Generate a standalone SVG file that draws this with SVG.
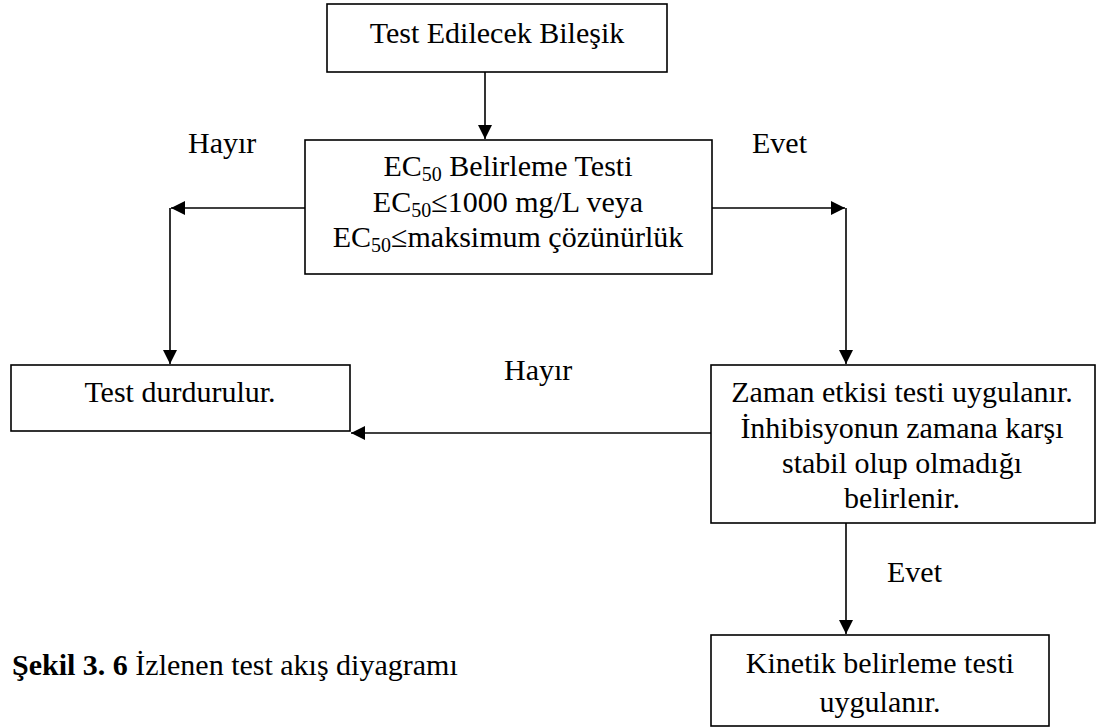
<svg xmlns="http://www.w3.org/2000/svg" width="1096" height="728" viewBox="0 0 1096 728">
  <defs>
    <marker id="arrow" viewBox="0 0 14 14" refX="14" refY="7" markerWidth="14" markerHeight="14" markerUnits="userSpaceOnUse" orient="auto">
      <path d="M0,0 L14,7 L0,14 Z" fill="#000"/>
    </marker>
    <style>
      .box { fill: #fff; stroke: #000; stroke-width: 1.6; }
      .edge { fill: none; stroke: #000; stroke-width: 1.6; marker-end: url(#arrow); }
      .mid { text-anchor: middle; }
      .sub { font-size: 20px; }
    </style>
  </defs>
  <rect width="1096" height="728" fill="#fff"/>

  <!-- connectors -->
  <g id="connectors">
    <path class="edge" d="M485,72 L485,139"/>
    <path class="edge" d="M305,208 L171,208"/>
    <path class="edge" d="M170,208 L170,364"/>
    <path class="edge" d="M712,208 L845,208"/>
    <path class="edge" d="M846,208 L846,364"/>
    <path class="edge" d="M711,433 L351,433"/>
    <path class="edge" d="M846,523 L846,634"/>
  </g>

  <g font-family="'Liberation Serif', 'Times New Roman', 'DejaVu Serif', serif" font-size="30" fill="#000">
    <!-- edge labels -->
    <g id="labels">
      <text x="188" y="153">Hayır</text>
      <text x="752" y="153">Evet</text>
      <text x="504" y="380">Hayır</text>
      <text x="887" y="582">Evet</text>
    </g>

    <g id="node-compound">
      <rect class="box" x="327" y="4" width="340" height="68"/>
      <text class="mid" x="497" y="43">Test Edilecek Bileşik</text>
    </g>

    <g id="node-ec50">
      <rect class="box" x="305" y="140" width="407" height="134"/>
      <text class="mid" x="508" y="176">EC<tspan class="sub" dy="5">50</tspan><tspan dy="-5"> Belirleme Testi</tspan></text>
      <text class="mid" x="508" y="212">EC<tspan class="sub" dy="5">50</tspan><tspan dy="-5">≤1000 mg/L veya</tspan></text>
      <text class="mid" x="508" y="247">EC<tspan class="sub" dy="5">50</tspan><tspan dy="-5">≤maksimum çözünürlük</tspan></text>
    </g>

    <g id="node-stop">
      <rect class="box" x="11" y="365" width="339" height="66"/>
      <text class="mid" x="180" y="402">Test durdurulur.</text>
    </g>

    <g id="node-time">
      <rect class="box" x="711" y="365" width="384" height="158"/>
      <text class="mid" x="902" y="402">Zaman etkisi testi uygulanır.</text>
      <text class="mid" x="902" y="438">İnhibisyonun zamana karşı</text>
      <text class="mid" x="902" y="473">stabil olup olmadığı</text>
      <text class="mid" x="902" y="508">belirlenir.</text>
    </g>

    <g id="node-kinetic">
      <rect class="box" x="711" y="635" width="338" height="91"/>
      <text class="mid" x="880" y="673">Kinetik belirleme testi</text>
      <text class="mid" x="880" y="712">uygulanır.</text>
    </g>

    <!-- caption -->
    <text x="12" y="675"><tspan font-weight="bold">Şekil 3. 6</tspan> İzlenen test akış diyagramı</text>
  </g>
</svg>
